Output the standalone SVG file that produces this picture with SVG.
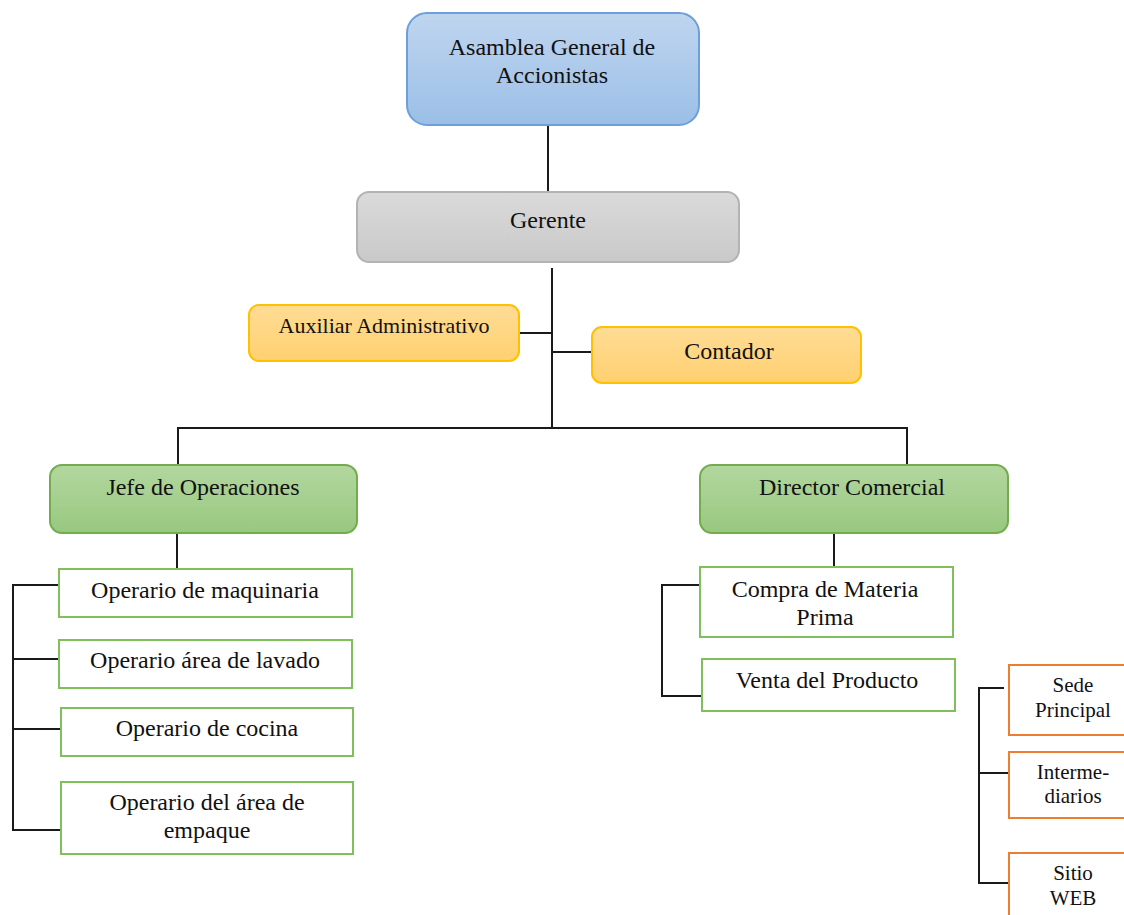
<svg xmlns="http://www.w3.org/2000/svg" width="1124" height="915" viewBox="0 0 1124 915">
<defs>
<linearGradient id="gBlue" x1="0" y1="0" x2="0" y2="1"><stop offset="0" stop-color="#bfd5ef"/><stop offset="1" stop-color="#9bbfe7"/></linearGradient>
<linearGradient id="gGray" x1="0" y1="0" x2="0" y2="1"><stop offset="0" stop-color="#dadada"/><stop offset="1" stop-color="#c9c9c9"/></linearGradient>
<linearGradient id="gYel" x1="0" y1="0" x2="0" y2="1"><stop offset="0" stop-color="#ffdc95"/><stop offset="1" stop-color="#ffd070"/></linearGradient>
<linearGradient id="gGreen" x1="0" y1="0" x2="0" y2="1"><stop offset="0" stop-color="#b3d79f"/><stop offset="1" stop-color="#98c87f"/></linearGradient>
</defs>
<style>
text{font-family:"Liberation Serif","DejaVu Serif",serif;fill:#111;text-anchor:middle;font-size:24px}
.sm{font-size:22px}
.or{font-size:21px}
.c{fill:none;stroke:#1a1a1a;stroke-width:2}
.blue{fill:url(#gBlue);stroke:#6d9fd9;stroke-width:2}
.gray{fill:url(#gGray);stroke:#b3b3b3;stroke-width:2}
.yel{fill:url(#gYel);stroke:#ffc000;stroke-width:2}
.green{fill:url(#gGreen);stroke:#72ac4d;stroke-width:2}
.wg{fill:#fff;stroke:#80c05c;stroke-width:2}
.wo{fill:#fff;stroke:#ed7d31;stroke-width:2}
</style>
<rect width="1124" height="915" fill="#fff"/>
<g id="connectors">
<path class="c" d="M548 125V192"/>
<path class="c" d="M552 268V428"/>
<path class="c" d="M519 333H552"/>
<path class="c" d="M552 352H592"/>
<path class="c" d="M178 465V428H907V465"/>
<path class="c" d="M177 533V568"/>
<path class="c" d="M59 585H13V830H61"/>
<path class="c" d="M13 659H59"/>
<path class="c" d="M13 729H61"/>
<path class="c" d="M834 533V567"/>
<path class="c" d="M700 585H662V696H702"/>
<path class="c" d="M1004 688H979V883H1010"/>
<path class="c" d="M979 773H1010"/>
</g>
<g id="asamblea"><rect class="blue" x="407" y="13" width="292" height="112" rx="20"/><text x="552" y="55">Asamblea General de</text><text x="552" y="83">Accionistas</text></g>
<g id="gerente"><rect class="gray" x="357" y="192" width="382" height="70" rx="12"/><text x="548" y="228">Gerente</text></g>
<g id="auxiliar"><rect class="yel" x="249" y="305" width="270" height="56" rx="10"/><text class="sm" x="384" y="333">Auxiliar Administrativo</text></g>
<g id="contador"><rect class="yel" x="592" y="327" width="269" height="56" rx="10"/><text x="729" y="359">Contador</text></g>
<g id="jefe"><rect class="green" x="50" y="465" width="307" height="68" rx="12"/><text x="203" y="495">Jefe de Operaciones</text></g>
<g id="director"><rect class="green" x="700" y="465" width="308" height="68" rx="12"/><text x="852" y="495">Director Comercial</text></g>
<g id="op-maquinaria"><rect class="wg" x="59" y="569" width="293" height="48"/><text x="205" y="598">Operario de maquinaria</text></g>
<g id="op-lavado"><rect class="wg" x="59" y="640" width="293" height="48"/><text x="205" y="668">Operario área de lavado</text></g>
<g id="op-cocina"><rect class="wg" x="61" y="708" width="292" height="48"/><text x="207" y="736">Operario de cocina</text></g>
<g id="op-empaque"><rect class="wg" x="61" y="782" width="292" height="72"/><text x="207" y="810">Operario del área de</text><text x="207" y="838">empaque</text></g>
<g id="compra"><rect class="wg" x="700" y="567" width="253" height="70"/><text x="825" y="597">Compra de Materia</text><text x="825" y="625">Prima</text></g>
<g id="venta"><rect class="wg" x="702" y="659" width="253" height="52"/><text x="827" y="688">Venta del Producto</text></g>
<g id="sede"><rect class="wo" x="1009" y="665" width="130" height="70"/><text class="or" x="1073" y="692">Sede</text><text class="or" x="1073" y="717">Principal</text></g>
<g id="intermediarios"><rect class="wo" x="1009" y="752" width="130" height="66"/><text class="or" x="1073" y="779">Interme-</text><text class="or" x="1073" y="803">diarios</text></g>
<g id="sitio"><rect class="wo" x="1009" y="853" width="130" height="80"/><text class="or" x="1073" y="880">Sitio</text><text class="or" x="1073" y="905">WEB</text></g>
</svg>
